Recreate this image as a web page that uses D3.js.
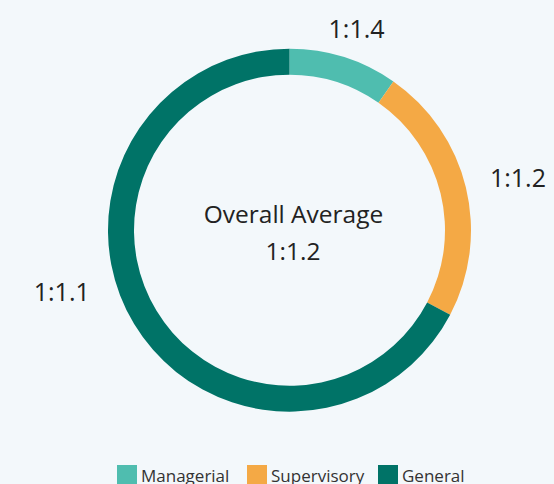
<!DOCTYPE html>
<html>
<head>
<meta charset="utf-8">
<script src="https://cdn.jsdelivr.net/npm/d3@7/dist/d3.min.js"></script>
<style>
  html, body { margin: 0; padding: 0; background: #f3f8fb; }
  svg { display: block; font-family: "Open Sans", "Noto Sans", sans-serif; }
</style>
</head>
<body>
<svg id="chart" width="554" height="484"></svg>
<script>
// Share of each staff level (ring segment size) and its ratio label
const categories = ["Managerial", "Supervisory", "General"];
const shares = [9.7, 23.0, 67.3];
const ratioLabels = ["1:1.4", "1:1.2", "1:1.1"];
const colors = ["#4fbdaf", "#f4a945", "#007367"];
const centerTitle = "Overall Average";
const centerValue = "1:1.2";

const svg = d3.select("#chart");
const W = 554, H = 484;
const cx = 289.5, cy = 230.2;
const outerR = 181.5, innerR = 155.5;

svg.append("rect").attr("width", W).attr("height", H).attr("fill", "#f3f8fb");

const data = categories.map((c, i) => ({ name: c, value: shares[i], label: ratioLabels[i], color: colors[i] }));

const pie = d3.pie().value(d => d.value).sort(null);
const arcs = pie(data);
const arc = d3.arc().innerRadius(innerR).outerRadius(outerR);

const g = svg.append("g").attr("transform", `translate(${cx},${cy})`);

g.selectAll("path.slice")
  .data(arcs)
  .join("path")
  .attr("class", "slice")
  .attr("d", arc)
  .attr("fill", d => d.data.color);

// Ratio labels outside the ring, placed around each segment's mid-angle
const labelArc = d3.arc().innerRadius(outerR + 32).outerRadius(outerR + 32);
const labelNudge = [[3, 1], [21, -3], [-45, -50]];
g.selectAll("text.ratio")
  .data(arcs)
  .join("text")
  .attr("class", "ratio")
  .attr("x", (d, i) => labelArc.centroid(d)[0] + labelNudge[i][0])
  .attr("y", (d, i) => labelArc.centroid(d)[1] + labelNudge[i][1])
  .attr("text-anchor", "middle")
  .attr("dominant-baseline", "central")
  .attr("font-size", 25)
  .attr("fill", "#222")
  .text(d => d.data.label);

// Center caption
g.append("text")
  .attr("x", 4).attr("y", -7)
  .attr("text-anchor", "middle")
  .attr("font-size", 24.5)
  .attr("fill", "#222")
  .text(centerTitle);
g.append("text")
  .attr("x", 3.5).attr("y", 30)
  .attr("text-anchor", "middle")
  .attr("font-size", 24.5)
  .attr("fill", "#222")
  .text(centerValue);

// Legend along the bottom
const legendX = [117, 247, 378];
const legend = svg.append("g");
const items = legend.selectAll("g.item")
  .data(data)
  .join("g")
  .attr("class", "item")
  .attr("transform", (d, i) => `translate(${legendX[i]},465)`);
items.append("rect")
  .attr("width", 20).attr("height", 20)
  .attr("fill", d => d.color);
items.append("text")
  .attr("x", 24).attr("y", 17)
  .attr("font-size", 17)
  .attr("fill", "#333")
  .text(d => d.name);
</script>
</body>
</html>
